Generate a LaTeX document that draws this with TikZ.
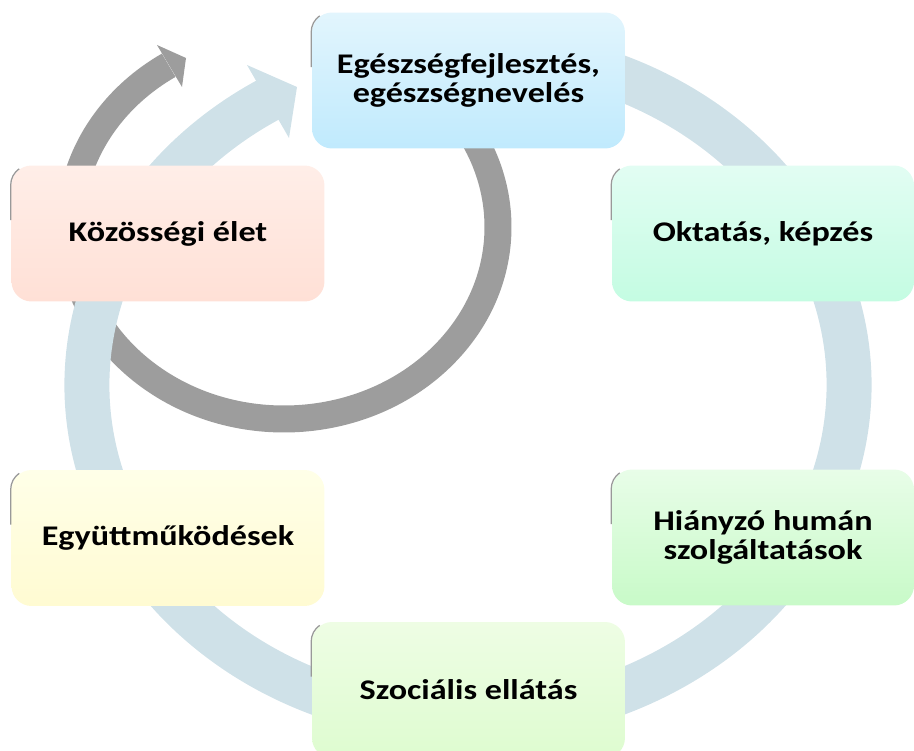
\documentclass[tikz,border=0pt]{standalone}
\usepackage{fontspec}
\setmainfont{Carlito}[FakeStretch=1.2]
\usetikzlibrary{calc}
\definecolor{ringblue}{RGB}{207,225,232}
\definecolor{arrowgray}{RGB}{157,157,157}
\definecolor{aT}{RGB}{226,245,253}\definecolor{aB}{RGB}{192,234,253}
\definecolor{bT}{RGB}{226,253,243}\definecolor{bB}{RGB}{196,252,226}
\definecolor{cT}{RGB}{232,253,232}\definecolor{cB}{RGB}{200,250,200}
\definecolor{dT}{RGB}{238,253,228}\definecolor{dB}{RGB}{222,252,208}
\definecolor{eT}{RGB}{255,255,232}\definecolor{eB}{RGB}{255,251,210}
\definecolor{fT}{RGB}{255,238,232}\definecolor{fB}{RGB}{255,224,214}
\begin{document}
\begin{tikzpicture}[x=0.02cm,y=0.02cm,
  box/.style={rounded corners=0.4cm, minimum width=6.26cm, minimum height=2.72cm,
    align=center, inner sep=0pt, text=black,
    font=\fontsize{16.2}{16.8}\selectfont\bfseries},
  narrowbox/.style={box, minimum width=6.04cm},
  cornershade/.style={black!40, line width=0.025cm}
]
\useasboundingbox (0,0) rectangle (914,751);
\clip (0,0) rectangle (914,751);
% gray circular arrow
\draw[arrowgray, line width=0.54cm] ($(284,524)+(50:214 and 192)$)
  arc[start angle=50, end angle=-237.4, x radius=214, y radius=192];
\fill[arrowgray] (157,706) -- (186,693) -- (182,664) -- cycle;
% light blue ring arrow
\draw[ringblue, line width=0.9cm] ($(468,366)+(75:381 and 335)$)
  arc[start angle=75, end angle=-238.8, x radius=381, y radius=335];
\fill[ringblue] (247,686) -- (297,664) -- (289,613) -- cycle;
% boxes
\node[box, top color=aT, bottom color=aB] (b1) at (468.5,670.5) {Egészségfejlesztés,\\egészségnevelés};
\node[narrowbox, top color=bT, bottom color=bB] (b2) at (763,517.5) {Oktatás, képzés};
\node[narrowbox, top color=cT, bottom color=cB] (b3) at (763,213.5) {Hiányzó humán\\szolgáltatások};
\node[box, top color=dT, bottom color=dB] (b4) at (468.5,61) {Szociális ellátás};
\node[box, top color=eT, bottom color=eB] (b5) at (168,213) {Együttműködések};
\node[box, top color=fT, bottom color=fB] (b6) at (168,517.5) {Közösségi élet};
\foreach \b in {b1,b2,b3,b4,b5,b6}{
  \draw[cornershade] ($(\b.north west)+(-0.5,-55)$) -- ($(\b.north west)+(-0.5,-20)$)
    arc[start angle=180, end angle=125, radius=20];
}
\end{tikzpicture}
\end{document}
